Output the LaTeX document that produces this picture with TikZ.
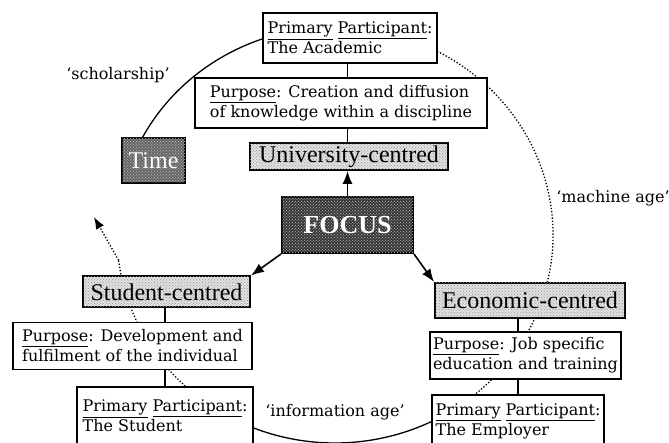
\documentclass[tikz,border=0pt]{standalone}
\usepackage{fontspec}
\setmainfont{DejaVu Serif}
\newfontfamily\labelfont{Liberation Serif}
\usetikzlibrary{arrows.meta,patterns,calc}
\newcommand{\boxfont}{\fontsize{16}{20}\selectfont}
\newcommand{\tagfont}{\labelfont\fontsize{24}{24}\selectfont}
\tikzset{
  infobox/.style={rectangle,draw=black,line width=1.8pt,fill=white,
                  inner sep=3pt,align=left,font=\boxfont},
  tagbox/.style={rectangle,draw=black,line width=2pt,fill=black!12,
                 postaction={pattern=crosshatch dots,pattern color=black!40},
                 inner sep=1pt,font=\tagfont},
  darkbox/.style={tagbox,fill=black!#1,text=white,
                  postaction={pattern=crosshatch dots,pattern color=white!70!black}},
  darkbox/.default=80,
  arr/.style={-{Latex[length=13pt,width=10pt]},line width=1.6pt},
  link/.style={line width=1.6pt},
  era/.style={font=\boxfont},
  ring/.style={line width=1.3pt},
  dots/.style={ring,dash pattern=on 1.3pt off 1.9pt},
}

\begin{document}
\begin{tikzpicture}[x=1pt,y=1pt]
  \useasboundingbox (0,0) rectangle (669,443);

  % cycle of the ages
  \coordinate (c) at (335,208);
  \draw[ring] ($(c)+(152:218pt and 208pt)$)
    arc[start angle=152,end angle=68,x radius=218pt,y radius=208pt];
  \draw[dots] ($(c)+(68:218pt and 208pt)$)
    arc[start angle=68,end angle=-58,x radius=218pt,y radius=208pt];
  \draw[ring] ($(c)+(-58:218pt and 208pt)$)
    arc[start angle=-58,end angle=-118,x radius=218pt,y radius=208pt];
  \draw[dots] ($(c)+(-118:218pt and 208pt)$)
    arc[start angle=-118,end angle=-173,x radius=218pt,y radius=208pt]
    coordinate (back);
  \coordinate (backtip) at (94,226);
  \draw[dots,-{Latex[length=12pt,width=9pt]}] (back) -- (backtip);

  % university
  \node[infobox,minimum width=174pt,minimum height=50pt] (acad) at (350,405)
    {\underline{Primary} \underline{Participant}:\\The Academic};
  \node[infobox,minimum width=292pt,minimum height=50pt] (upurp) at (341,340)
    {\underline{Purpose}: Creation and diffusion\\of knowledge within a discipline};
  \node[tagbox,minimum width=198pt,minimum height=27pt] (uni) at (349,286.5)
    {University-centred};

  \node[darkbox,minimum width=131pt,minimum height=56pt,
        font=\labelfont\bfseries\fontsize{26}{26}\selectfont] (focus) at (347.5,218) {FOCUS};
  \node[darkbox=60,minimum width=63pt,minimum height=45pt] (time) at (153.5,282.5) {Time};

  % student
  \node[tagbox,minimum width=167pt,minimum height=31pt] (stud) at (166.5,151)
    {Student-centred};
  \node[infobox,minimum width=239pt,minimum height=47pt] (spurp) at (132.5,97)
    {\underline{Purpose}: Development and\\fulfilment of the individual};
  \node[infobox,minimum width=176pt,minimum height=58pt] (spart) at (165,27)
    {\underline{Primary} \underline{Participant}:\\The Student};

  % economic
  \node[tagbox,minimum width=190pt,minimum height=35pt] (econ) at (530,142.5)
    {Economic-centred};
  \node[infobox,minimum width=187pt,minimum height=47pt] (epurp) at (525.5,87.5)
    {\underline{Purpose}: Job specific\\education and training};
  \node[infobox,minimum width=172pt,minimum height=52pt] (epart) at (518,22)
    {\underline{Primary} \underline{Participant}:\\The Employer};

  % labels of the ages
  \node[era] (schol) at (118,368) {`scholarship'};
  \node[era] (mach) at (613,245) {`machine age'};
  \node[era] (info) at (335,31) {`information age'};

  % links
  \draw[link] (acad.south -| focus) -- (upurp.north -| focus);
  \draw[link] (upurp.south -| focus) -- (uni.north -| focus);
  \draw[arr] (focus.north) -- (uni.south -| focus);
  \draw[arr] (focus.south west) -- (stud.north east);
  \draw[arr] (focus.south east) -- (econ.north west);
  \draw[link] (stud.south -| spart) -- (spurp.north -| spart);
  \draw[link] (spurp.south -| spart) -- (spart.north);
  \draw[link] (econ.south -| epart) -- (epurp.north -| epart);
  \draw[link] (epurp.south -| epart) -- (epart.north);
\end{tikzpicture}
\end{document}
